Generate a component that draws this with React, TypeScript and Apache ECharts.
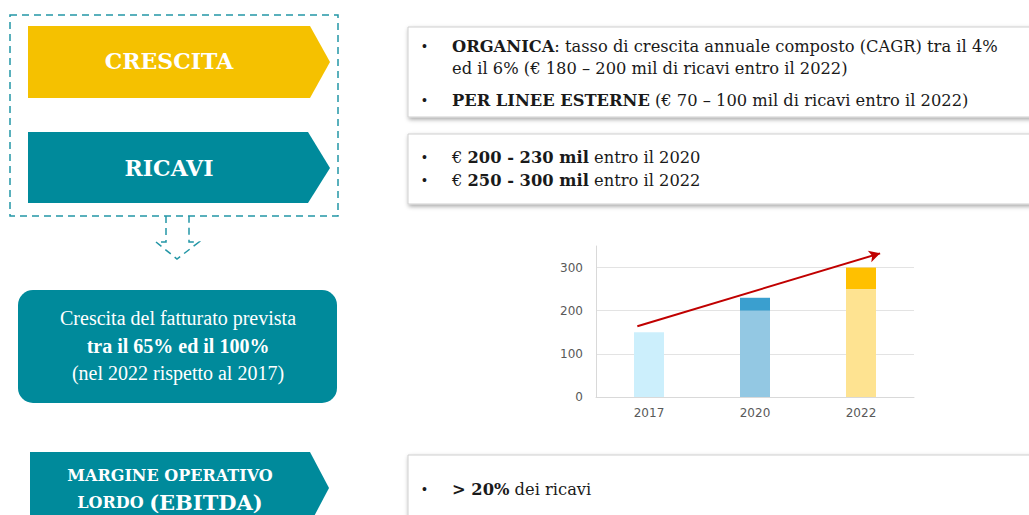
import React, { useEffect, useRef } from "react";
import * as echarts from "echarts";

// ---- chart data ----
const years = ["2017", "2020", "2022"];
const baseValues = [150, 200, 250];
const upperValues = [0, 30, 50];
const baseColors = ["#CCEFFC", "#93C8E3", "#FEE391"];
const upperColors = ["#CCEFFC", "#3A9FCF", "#FFC000"];
const yMax = 350;
const yInterval = 100;
const arrowStart = [-0.11, 164];
const arrowEnd = [2.18, 333];

// ---- slide texts ----
const titleCrescita = "CRESCITA";
const titleRicavi = "RICAVI";
const roundBoxLines = [
  "{r|Crescita del fatturato prevista}",
  "{b|tra il 65% ed il 100%}",
  "{r|(nel 2022 rispetto al 2017)}",
];
const margineLines = ["{s|MARGINE OPERATIVO}", "{s|LORDO }{l|(EBITDA)}"];
const box1Lines = [
  "{b|ORGANICA}{r|: tasso di crescita annuale composto (CAGR) tra il 4%}",
  "{r|ed il 6% (€ 180 – 200 mil di ricavi entro il 2022)}",
  "{b|PER LINEE ESTERNE}{r| (€ 70 – 100 mil di ricavi entro il 2022)}",
];
const box2Lines = [
  "{r|€ }{b|200 - 230 mil}{r| entro il 2020}",
  "{r|€ }{b|250 - 300 mil}{r| entro il 2022}",
];
const box3Lines = ["{b|> 20%}{r| dei ricavi}"];

const TEAL = "#008A9B";
const YELLOW = "#F5C100";
const DASH = "#2396A6";
const SERIF_HEAD = "DejaVu Serif";
const BODY = "DejaVu Serif";

export default function App() {
  const ref = useRef<HTMLDivElement>(null);
  useEffect(() => {
    if (!ref.current) return;
    const chart = echarts.init(ref.current, null, { renderer: "svg" });

    const bodyRich = {
      r: { fontFamily: BODY, fontSize: 16.3, fill: "#1A1A1A" },
      b: { fontFamily: BODY, fontSize: 16.3, fontWeight: "bold", fill: "#1A1A1A" },
    };
    const bodyText = (x: number, y: number, text: string) => ({
      type: "text",
      x,
      y,
      style: { text, rich: bodyRich, verticalAlign: "middle", align: "left" },
    });
    const bullet = (x: number, y: number) => ({
      type: "text",
      x,
      y,
      style: { text: "•", fontFamily: "Liberation Sans", fontSize: 14, fill: "#1A1A1A", verticalAlign: "middle" },
    });
    const whiteBox = (y: number, h: number) => ({
      type: "rect",
      shape: { x: 408, y, width: 660, height: h },
      style: {
        fill: "#FFFFFF",
        stroke: "#CFCFCF",
        lineWidth: 1,
        shadowBlur: 4,
        shadowOffsetX: 1,
        shadowOffsetY: 2,
        shadowColor: "rgba(0,0,0,0.35)",
      },
    });

    const graphics: any[] = [
      // dashed frame
      {
        type: "rect",
        shape: { x: 10, y: 15, width: 328, height: 201 },
        style: { fill: "none", stroke: DASH, lineWidth: 1.5, lineDash: [7, 5] },
      },
      {
        type: "polyline",
        shape: {
          points: [
            [166, 216],
            [166, 242],
            [156, 242],
            [177, 259],
            [199, 242],
            [189, 242],
            [189, 216],
          ],
        },
        style: { fill: "none", stroke: DASH, lineWidth: 1.5, lineDash: [7, 5] },
      },
      // CRESCITA arrow
      {
        type: "polygon",
        shape: { points: [[28, 26], [310, 26], [330, 62], [310, 98], [28, 98]] },
        style: { fill: YELLOW },
      },
      {
        type: "text",
        x: 169,
        y: 61,
        style: {
          text: titleCrescita,
          fontFamily: SERIF_HEAD,
          fontWeight: "bold",
          fontSize: 22,
          fill: "#FFFFFF",
          align: "center",
          verticalAlign: "middle",
        },
      },
      // RICAVI arrow
      {
        type: "polygon",
        shape: { points: [[28, 132], [308, 132], [330, 168], [308, 203], [28, 203]] },
        style: { fill: TEAL },
      },
      {
        type: "text",
        x: 169,
        y: 168,
        style: {
          text: titleRicavi,
          fontFamily: SERIF_HEAD,
          fontWeight: "bold",
          fontSize: 22,
          fill: "#FFFFFF",
          align: "center",
          verticalAlign: "middle",
        },
      },
      // rounded box
      {
        type: "rect",
        shape: { x: 18, y: 290, width: 319, height: 113, r: 15 },
        style: { fill: TEAL },
      },
      ...roundBoxLines.map((t, i) => ({
        type: "text",
        x: 178,
        y: 318 + i * 27.5,
        style: {
          text: t,
          align: "center",
          verticalAlign: "middle",
          rich: {
            r: { fontFamily: "Liberation Serif", fontSize: 20, fill: "#FFFFFF" },
            b: { fontFamily: "Liberation Serif", fontSize: 20, fontWeight: "bold", fill: "#FFFFFF" },
          },
        },
      })),
      // MARGINE OPERATIVO arrow
      {
        type: "polygon",
        shape: { points: [[30, 452], [310, 452], [329, 488], [310, 524], [30, 524]] },
        style: { fill: TEAL },
      },
      ...margineLines.map((t, i) => ({
        type: "text",
        x: 170,
        y: 475 + i * 27,
        style: {
          text: t,
          align: "center",
          verticalAlign: "middle",
          rich: {
            s: { fontFamily: SERIF_HEAD, fontSize: 16, fontWeight: "bold", fill: "#FFFFFF" },
            l: { fontFamily: SERIF_HEAD, fontSize: 21, fontWeight: "bold", fill: "#FFFFFF" },
          },
        },
      })),
      // right boxes
      whiteBox(27, 90),
      whiteBox(134, 70),
      whiteBox(455, 80),
      bullet(422, 46),
      bodyText(452, 46, box1Lines[0]),
      bodyText(452, 68, box1Lines[1]),
      bullet(422, 100),
      bodyText(452, 100, box1Lines[2]),
      bullet(422, 157),
      bodyText(452, 157, box2Lines[0]),
      bullet(422, 180),
      bodyText(452, 180, box2Lines[1]),
      bullet(422, 489),
      bodyText(452, 489, box3Lines[0]),
    ];

    const option: any = {
      animation: false,
      backgroundColor: "#FFFFFF",
      grid: { left: 596, right: 115, top: 246, bottom: 118, containLabel: false },
      xAxis: [
        {
          type: "category",
          data: years,
          axisLine: { show: true, onZero: false, lineStyle: { color: "#D9D9D9", width: 1 } },
          axisTick: { show: false },
          axisLabel: { color: "#595959", fontFamily: "DejaVu Sans", fontSize: 12, margin: 10 },
        },
        { type: "value", min: -0.5, max: 2.5, show: false },
      ],
      yAxis: {
        type: "value",
        min: 0,
        max: yMax,
        interval: yInterval,
        axisLine: { show: true, onZero: false, lineStyle: { color: "#D9D9D9", width: 1 } },
        axisTick: { show: false },
        axisLabel: {
          color: "#595959",
          fontFamily: "DejaVu Sans",
          fontSize: 12,
          margin: 13,
          showMaxLabel: false,
          formatter: (v: number) => (v % yInterval === 0 ? String(v) : ""),
        },
        splitLine: {
          show: true,
          lineStyle: {
            color: ["#E3E3E3", "#E3E3E3", "#E3E3E3", "#E3E3E3", "rgba(0,0,0,0)"],
            width: 1,
          },
        },
      },
      series: [
        {
          type: "bar",
          stack: "rev",
          barWidth: 30,
          data: baseValues.map((v, i) => ({ value: v, itemStyle: { color: baseColors[i] } })),
        },
        {
          type: "bar",
          stack: "rev",
          barWidth: 30,
          data: upperValues.map((v, i) => ({ value: v, itemStyle: { color: upperColors[i] } })),
        },
        {
          type: "line",
          xAxisIndex: 1,
          data: [],
          markLine: {
            silent: true,
            symbol: ["none", "arrow"],
            symbolSize: [9, 11],
            label: { show: false },
            lineStyle: { color: "#C00000", width: 2, type: "solid" },
            data: [[{ coord: arrowStart }, { coord: arrowEnd }]],
          },
        },
      ],
      graphic: graphics,
    };
    chart.setOption(option);
    return () => chart.dispose();
  }, []);

  return (
    <div
      ref={ref}
      style={{ position: "fixed", left: 0, top: 0, width: 1029, height: 515, background: "#fff" }}
    />
  );
}
